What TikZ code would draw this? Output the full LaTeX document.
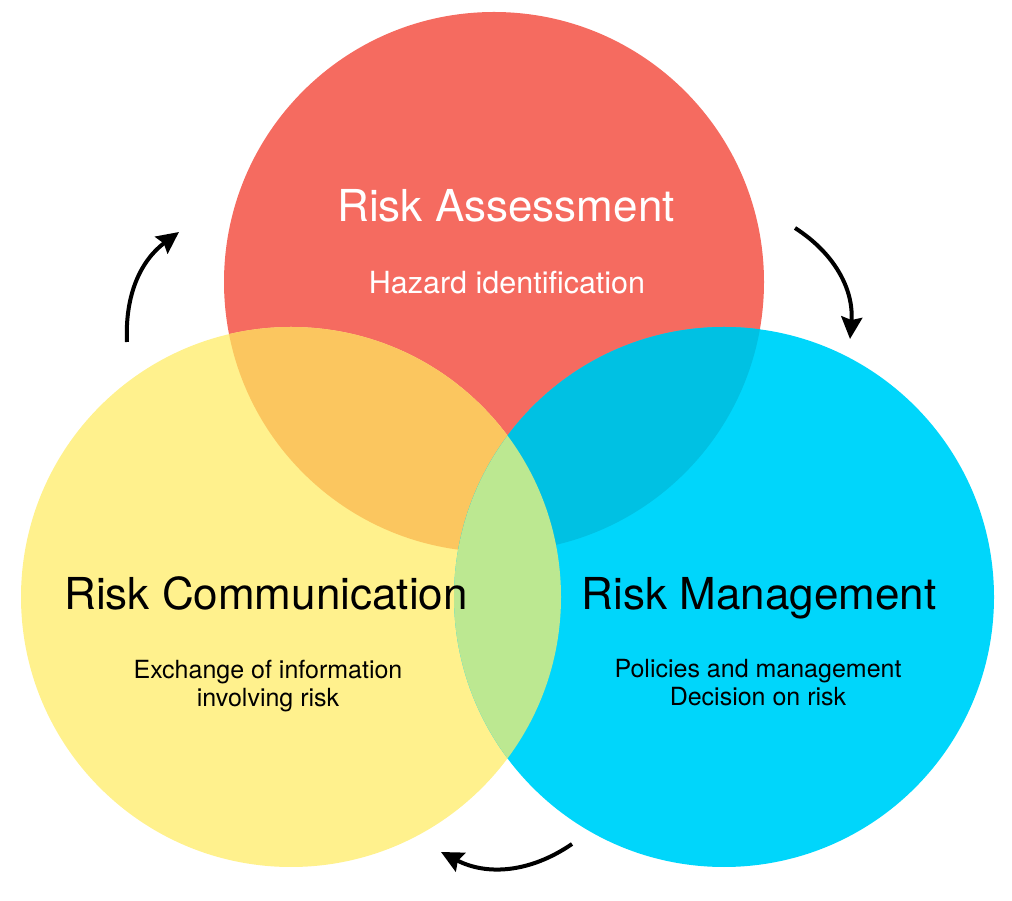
\documentclass[tikz,border=0pt]{standalone}
\usepackage{fontspec}
\setmainfont{TeX Gyre Heros}
\usetikzlibrary{arrows.meta}

\definecolor{assessred}{HTML}{F56B60}
\definecolor{communyellow}{HTML}{FFF18D}
\definecolor{managecyan}{HTML}{00D6FB}
\definecolor{redyellow}{HTML}{FBC65F}
\definecolor{redcyan}{HTML}{00C1E3}
\definecolor{yellowcyan}{HTML}{BCE891}

\tikzset{
  cyclearrow/.style={-{Stealth[length=22pt,width=21pt,inset=3pt]}, line width=4pt},
  maintitle/.style={anchor=base, inner sep=0pt, font=\fontsize{44}{50}\selectfont},
  subtitle/.style={anchor=north, inner sep=0pt, align=center, font=\fontsize{25}{28.5}\selectfont},
}

\begin{document}
\begin{tikzpicture}[x=1pt, y=1pt]
            \useasboundingbox (0,0) rectangle (1012,900);

            % Centri dei tre cerchi
            \coordinate (assess) at (494,618);
            \coordinate (commun) at (291,303);
            \coordinate (manage) at (724,303);

            % Cerchi pieni
            \fill[assessred] (assess) circle[radius=270pt];
            \fill[communyellow] (commun) circle[radius=270pt];
            \fill[managecyan] (manage) circle[radius=270pt];

            % Zone di sovrapposizione
            \begin{scope}
                \clip (assess) circle[radius=270pt];
                \fill[redyellow] (commun) circle[radius=270pt];
                \fill[redcyan] (manage) circle[radius=270pt];
            \end{scope}
            \begin{scope}
                \clip (commun) circle[radius=270pt];
                \fill[yellowcyan] (manage) circle[radius=270pt];
            \end{scope}

            % Testi
            \node[maintitle, text=white] (assesstitle) at (506,678) {Risk Assessment};
            \node[anchor=base, inner sep=0pt, text=white, font=\fontsize{30.5}{34}\selectfont] (assesssub) at (507,606) {Hazard identification};

            \node[maintitle] (communtitle) at (266,290) {Risk Communication};
            \node[subtitle] (communsub) at (268,240) {Exchange of information\\involving risk};

            \node[maintitle] (managetitle) at (759,290) {Risk Management};
            \node[subtitle] (managesub) at (758,241) {Policies and management\\Decision on risk};

            % Frecce del ciclo
            \coordinate (c1a) at (127,558);
            \coordinate (c1b) at (179,668);
            \coordinate (c2a) at (795,672);
            \coordinate (c2b) at (850,561);
            \coordinate (c3a) at (572,56);
            \coordinate (c3b) at (441,48);
            \draw[cyclearrow] (c1a) to[bend left=28] (c1b);
            \draw[cyclearrow] (c2a) to[bend left=31] (c2b);
            \draw[cyclearrow] (c3a) to[bend left=31] (c3b);
        \end{tikzpicture}
\end{document}
